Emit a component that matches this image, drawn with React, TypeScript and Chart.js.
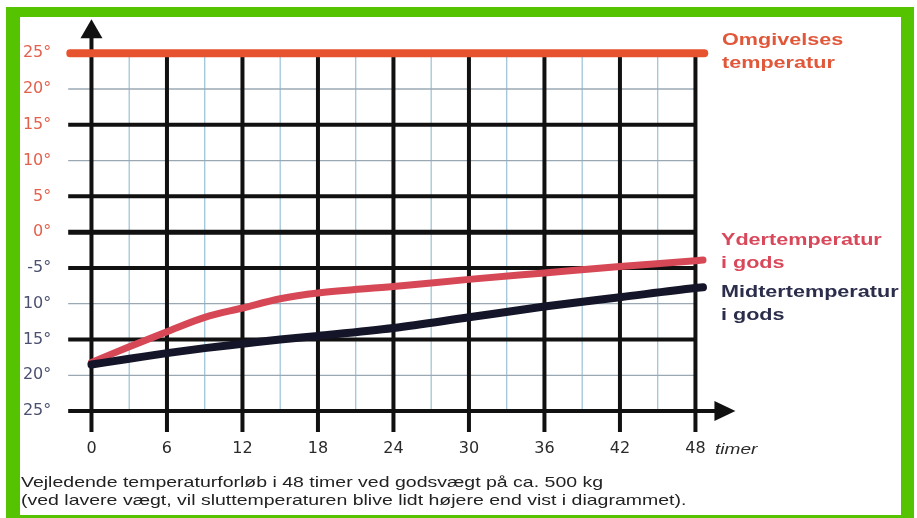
import React, { useEffect, useRef } from "react";
import { Chart, registerables } from "chart.js";

Chart.register(...registerables);

// ---- data ----
const hours = [0, 3, 6, 9, 12, 15, 18, 24, 30, 36, 42, 48, 48.6];
const yderTemp = [-18.2, -16.0, -13.9, -11.9, -10.6, -9.3, -8.5, -7.6, -6.6, -5.7, -4.8, -4.0, -3.9];
const midtTemp = [-18.5, -17.7, -16.9, -16.2, -15.6, -15.0, -14.5, -13.4, -11.9, -10.4, -9.1, -7.8, -7.7];
const ambientHours = [-1.7, 48.7];
const ambientTemp = [25, 25];

const xTicks = [0, 6, 12, 18, 24, 30, 36, 42, 48];
const xTickLabels = ["0", "6", "12", "18", "24", "30", "36", "42", "48"];
const yTicks = [25, 20, 15, 10, 5, 0, -5, -10, -15, -20, -25];
const yTickLabels = ["25°", "20°", "15°", "10°", "5°", "0°", "-5°", "10°", "15°", "20°", "25°"];

const xUnit = "timer";
const ambientLabel = ["Omgivelses", "temperatur"];
const yderLabel = ["Ydertemperatur", "i gods"];
const midtLabel = ["Midtertemperatur", "i gods"];
const captionLines = [
  "Vejledende temperaturforløb i 48 timer ved godsvægt på ca. 500 kg",
  "(ved lavere vægt, vil sluttemperaturen blive lidt højere end vist i diagrammet).",
];

const C_AMB = "#e8532f";
const C_YDER = "#d64855";
const C_MIDT = "#15152a";

function line(ctx, x1, y1, x2, y2, color, w) {
  ctx.beginPath();
  ctx.strokeStyle = color;
  ctx.lineWidth = w;
  ctx.lineCap = "butt";
  ctx.moveTo(x1, y1);
  ctx.lineTo(x2, y2);
  ctx.stroke();
}

function sText(ctx, text, x, y, sx) {
  ctx.save();
  ctx.translate(x, y);
  ctx.scale(sx, 1);
  ctx.fillText(text, 0, 0);
  ctx.restore();
}

const framePlugin = {
  id: "frame",
  beforeDraw(chart) {
    const ctx = chart.ctx;
    ctx.save();
    ctx.fillStyle = "#ffffff";
    ctx.fillRect(0, 0, chart.width, chart.height);
    ctx.fillStyle = "#55c300";
    ctx.fillRect(6, 7, 908, 530);
    ctx.fillStyle = "#ffffff";
    ctx.fillRect(20, 17, 881, 498);
    ctx.restore();
  },
};

const gridPlugin = {
  id: "paperGrid",
  beforeDatasetsDraw(chart) {
    const ctx = chart.ctx;
    const xs = chart.scales.x;
    const ys = chart.scales.y;
    const X = (v) => xs.getPixelForValue(v);
    const Y = (v) => ys.getPixelForValue(v);
    const left = X(-1.85);
    const right = X(48);
    const topY = Y(25);
    const axisY = Y(-25);
    const tickBottom = axisY + 21;
    ctx.save();
    // thin blue verticals
    for (let h = 3; h < 48; h += 6) line(ctx, X(h), topY, X(h), axisY, "#9fc6da", 1.3);
    // thin horizontals
    [20, 10, -10, -20].forEach((v) => line(ctx, left, Y(v), right, Y(v), "#9aa8b4", 1.3));
    // thick horizontals
    [15, 5, -5, -15].forEach((v) => line(ctx, left, Y(v), right, Y(v), "#111111", 4));
    line(ctx, left, Y(0), right, Y(0), "#111111", 5);
    // thick verticals
    for (let h = 6; h <= 48; h += 6) line(ctx, X(h), topY, X(h), tickBottom, "#111111", 4);
    // x axis + arrow
    const tipX = X(48) + 40;
    line(ctx, left, axisY, tipX - 18, axisY, "#111111", 4);
    ctx.fillStyle = "#111111";
    ctx.beginPath();
    ctx.moveTo(tipX, axisY);
    ctx.lineTo(tipX - 21, axisY - 10);
    ctx.lineTo(tipX - 21, axisY + 10);
    ctx.closePath();
    ctx.fill();
    // y axis + arrow
    const tipY = Y(25) - 34;
    line(ctx, X(0), tickBottom, X(0), tipY + 16, "#111111", 4);
    ctx.beginPath();
    ctx.moveTo(X(0), tipY);
    ctx.lineTo(X(0) - 11, tipY + 19);
    ctx.lineTo(X(0) + 11, tipY + 19);
    ctx.closePath();
    ctx.fill();
    ctx.restore();
  },
  afterDraw(chart) {
    const ctx = chart.ctx;
    ctx.save();
    ctx.textBaseline = "alphabetic";
    ctx.textAlign = "left";
    // legend-like labels
    ctx.font = "bold 17px 'Liberation Sans', Arial, sans-serif";
    ctx.fillStyle = "#e0573a";
    sText(ctx, ambientLabel[0], 722, 45, 1.27);
    sText(ctx, ambientLabel[1], 722, 68, 1.27);
    ctx.fillStyle = "#d9485a";
    sText(ctx, yderLabel[0], 721, 245, 1.27);
    sText(ctx, yderLabel[1], 721, 268, 1.27);
    ctx.fillStyle = "#2b2d4b";
    sText(ctx, midtLabel[0], 721, 297, 1.27);
    sText(ctx, midtLabel[1], 721, 320, 1.27);
    // unit
    ctx.font = "italic 15px 'Liberation Sans', Arial, sans-serif";
    ctx.fillStyle = "#2a2a2a";
    sText(ctx, xUnit, 715, 454, 1.27);
    // caption
    ctx.font = "15px 'Liberation Sans', Arial, sans-serif";
    ctx.fillStyle = "#222222";
    sText(ctx, captionLines[0], 21, 487, 1.3);
    sText(ctx, captionLines[1], 21, 505, 1.3);
    ctx.restore();
  },
};

export default function App() {
  const ref = useRef(null);
  useEffect(() => {
    const toXY = (xsArr, ysArr) => xsArr.map((x, i) => ({ x, y: ysArr[i] }));
    const chart = new Chart(ref.current, {
      type: "line",
      data: {
        datasets: [
          {
            label: ambientLabel.join(" "),
            data: toXY(ambientHours, ambientTemp),
            borderColor: C_AMB,
            borderWidth: 8,
            borderCapStyle: "round",
            pointRadius: 0,
            order: 3,
          },
          {
            label: yderLabel.join(" "),
            data: toXY(hours, yderTemp),
            borderColor: C_YDER,
            borderWidth: 7,
            borderCapStyle: "round",
            pointRadius: 0,
            cubicInterpolationMode: "monotone",
            order: 2,
          },
          {
            label: midtLabel.join(" "),
            data: toXY(hours, midtTemp),
            borderColor: C_MIDT,
            borderWidth: 8,
            borderCapStyle: "round",
            pointRadius: 0,
            cubicInterpolationMode: "monotone",
            order: 1,
          },
        ],
      },
      options: {
        animation: false,
        responsive: false,
        maintainAspectRatio: false,
        layout: { padding: { top: 23.3, right: 190.1, left: 0, bottom: 0 } },
        plugins: { legend: { display: false }, tooltip: { enabled: false }, title: { display: false } },
        scales: {
          x: {
            type: "linear",
            min: -2,
            max: 50.5,
            grid: { display: false, drawTicks: false },
            border: { display: false },
            afterBuildTicks: (s) => {
              s.ticks = xTicks.map((v) => ({ value: v }));
            },
            afterFit: (s) => {
              s.height = 78.3;
            },
            ticks: {
              autoSkip: false,
              maxRotation: 0,
              padding: 0,
              color: "#2a2a2a",
              font: { family: "'DejaVu Sans', sans-serif", size: 16 },
              callback: (v) => {
                const i = xTicks.indexOf(Number(v));
                return i >= 0 ? xTickLabels[i] : "";
              },
            },
          },
          y: {
            type: "linear",
            min: -29,
            max: 29,
            grid: { display: false, drawTicks: false },
            border: { display: false },
            afterBuildTicks: (s) => {
              s.ticks = yTicks.slice().reverse().map((v) => ({ value: v }));
            },
            afterFit: (s) => {
              s.width = 66.3;
            },
            ticks: {
              autoSkip: false,
              padding: 15,
              color: (c) => (c.tick && c.tick.value >= 0 ? "#e2604c" : "#4b5070"),
              font: { family: "'DejaVu Sans', sans-serif", size: 16 },
              callback: (v) => {
                const i = yTicks.indexOf(Number(v));
                return i >= 0 ? yTickLabels[i] : "";
              },
            },
          },
        },
      },
      plugins: [framePlugin, gridPlugin],
    });
    return () => chart.destroy();
  }, []);
  return (
    <div style={{ position: "absolute", left: 0, top: 0, width: 917, height: 518 }}>
      <canvas ref={ref} width={917} height={518} style={{ display: "block", width: 917, height: 518 }} />
    </div>
  );
}
